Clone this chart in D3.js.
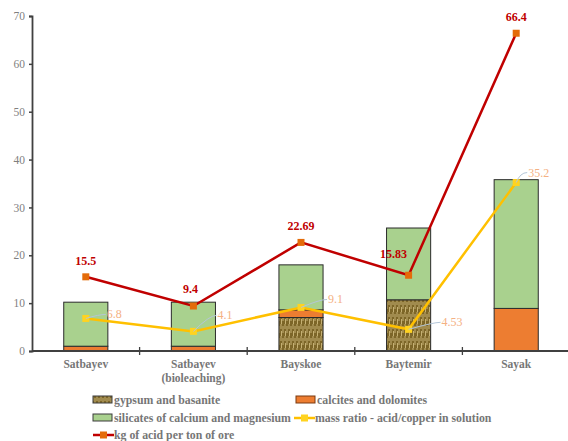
<!DOCTYPE html>
<html><head><meta charset="utf-8">
<script src="https://cdn.jsdelivr.net/npm/d3@7"></script>
<style>body{margin:0;background:#fff}svg{display:block}</style>
</head><body><svg id="c" width="568" height="441"></svg>
<script>
const categories = ["Satbayev", "Satbayev\n(bioleaching)", "Bayskoe", "Baytemir", "Sayak"];
const gypsum = [0, 0, 7.0, 10.7, 0];
const calcites = [1.0, 1.0, 1.6, 0, 8.9];
const silicates = [9.2, 9.2, 9.4, 15.0, 26.9];
const massRatio = [6.8, 4.1, 9.1, 4.53, 35.2];
const kgAcid = [15.5, 9.4, 22.69, 15.83, 66.4];
const yTicks = [0, 10, 20, 30, 40, 50, 60, 70];

const svg = d3.select("#c");
const font = "'Liberation Serif', 'Times New Roman', serif";
const x = d3.scaleBand().domain(categories).range([32, 570]).paddingInner(0.59).paddingOuter(0.295);
const y = d3.scaleLinear().domain([0, 70]).range([351, 16]);

// pattern for gypsum
const defs = svg.append("defs");
const pat = defs.append("pattern").attr("id", "gyp").attr("patternUnits", "userSpaceOnUse")
  .attr("width", 4).attr("height", 12);
pat.append("rect").attr("width", 4).attr("height", 12).attr("fill", "#7d6628");
pat.append("path").attr("d", "M1,0 L1,5 M1.5,7 L1.5,12 M3,2 L3,9").attr("stroke", "#cdb97c").attr("stroke-width", 0.9);

const stackData = categories.map((c, i) => ({cat: c, gypsum: gypsum[i], calcites: calcites[i], silicates: silicates[i]}));
const keys = ["gypsum", "calcites", "silicates"];
const fills = {gypsum: "url(#gyp)", calcites: "#ed7d31", silicates: "#a9d18e"};
const stacked = d3.stack().keys(keys)(stackData);

// axes
const yAxis = svg.append("g").attr("transform", "translate(32,0)")
  .call(d3.axisLeft(y).tickValues(yTicks).tickSize(3).tickPadding(4));
yAxis.select(".domain").attr("stroke", "#404040").attr("stroke-width", 1.8);
yAxis.selectAll(".tick line").attr("stroke", "#404040").attr("stroke-width", 1.5);
yAxis.selectAll("text").attr("font-family", font).attr("font-size", 11.5).attr("fill", "#7f7f7f");

// bars
stacked.forEach(s => {
  svg.append("g").selectAll("rect").data(s.filter(d => d[1] - d[0] > 0)).join("rect")
    .attr("x", d => x(d.data.cat)).attr("width", x.bandwidth())
    .attr("y", d => y(d[1])).attr("height", d => y(d[0]) - y(d[1]))
    .attr("fill", fills[s.key]).attr("stroke", "#2b2b2b").attr("stroke-width", 1);
});

// x axis
const xAxisG = svg.append("g").attr("transform", "translate(0,351)");
xAxisG.append("line").attr("x1", 32).attr("x2", 568).attr("stroke", "#404040").attr("stroke-width", 1.8);
const step = x.step();
categories.slice(1).forEach((c, i) => {
  const tx = x(c) - x.paddingInner() * step / 2;
  xAxisG.append("line").attr("x1", tx).attr("x2", tx).attr("y1", -4).attr("y2", 4)
    .attr("stroke", "#404040").attr("stroke-width", 1.3);
});
categories.forEach(c => {
  const lines = c.split("\n");
  const t = xAxisG.append("text").attr("x", x(c) + x.bandwidth() / 2).attr("y", 17)
    .attr("text-anchor", "middle").attr("font-family", font).attr("font-weight", "bold")
    .attr("font-size", 11.5).attr("fill", "#767676");
  lines.forEach((l, j) => t.append("tspan").attr("x", x(c) + x.bandwidth() / 2).attr("dy", j ? 14 : 0).text(l));
});

const cx = i => x(categories[i]) + x.bandwidth() / 2;
const line = d3.line().x((d, i) => cx(i)).y(d => y(d));

// yellow series
svg.append("path").datum(massRatio).attr("d", line).attr("fill", "none")
  .attr("stroke", "#ffc000").attr("stroke-width", 2.5);
svg.append("g").selectAll("rect").data(massRatio).join("rect")
  .attr("x", (d, i) => cx(i) - 3.5).attr("y", d => y(d) - 3.5).attr("width", 7).attr("height", 7)
  .attr("fill", "#ffd320");

// red series
svg.append("path").datum(kgAcid).attr("d", line).attr("fill", "none")
  .attr("stroke", "#c00000").attr("stroke-width", 2.5);
svg.append("g").selectAll("rect").data(kgAcid).join("rect")
  .attr("x", (d, i) => cx(i) - 3.5).attr("y", d => y(d) - 3.5).attr("width", 7).attr("height", 7)
  .attr("fill", "#e46c0a");

// red labels
const redOff = [[0, -12], [-3, -13], [0, -12], [-15, -17], [0, -12]];
svg.append("g").selectAll("text").data(kgAcid).join("text")
  .attr("x", (d, i) => cx(i) + redOff[i][0]).attr("y", (d, i) => y(d) + redOff[i][1])
  .attr("text-anchor", "middle").attr("font-family", font).attr("font-weight", "bold")
  .attr("font-size", 12).attr("fill", "#c00000").text(d => d);

// yellow labels with leader lines
const yelOff = [[21, 0], [24, -12], [27, -4], [33, -3], [12, -6]];
const yl = svg.append("g");
massRatio.forEach((d, i) => {
  const px = cx(i), py = y(d);
  const lx = px + yelOff[i][0], ly = py + yelOff[i][1];
  yl.append("path").attr("d", `M${px},${py} Q${lx - 8},${ly - 4} ${lx - 1},${ly - 4}`)
    .attr("fill", "none").attr("stroke", "#b4c6d8").attr("stroke-width", 1);
  yl.append("text").attr("x", lx).attr("y", ly).attr("font-family", font)
    .attr("font-size", 12).attr("fill", "#f4b183").text(d);
});

// legend
const legend = [
  {label: "gypsum and basanite", type: "rect", fill: "url(#gyp)", stroke: "#3c3c3c", x: 93, y: 400},
  {label: "calcites and dolomites", type: "rect", fill: "#ed7d31", stroke: "#7a3a10", x: 296, y: 400},
  {label: "silicates of calcium and magnesium", type: "rect", fill: "#a9d18e", stroke: "#3c3c3c", x: 93, y: 418},
  {label: "mass ratio - acid/copper in solution", type: "line", stroke: "#ffc000", mark: "#ffd320", x: 294, y: 418},
  {label: "kg of acid per ton of ore", type: "line", stroke: "#c00000", mark: "#e46c0a", x: 93, y: 435}
];
const lg = svg.append("g");
legend.forEach(l => {
  if (l.type === "rect") {
    lg.append("rect").attr("x", l.x).attr("y", l.y - 4).attr("width", 19).attr("height", 7)
      .attr("fill", l.fill).attr("stroke", l.stroke).attr("stroke-width", 1);
  } else {
    lg.append("line").attr("x1", l.x).attr("x2", l.x + 21).attr("y1", l.y).attr("y2", l.y)
      .attr("stroke", l.stroke).attr("stroke-width", 2.5);
    lg.append("rect").attr("x", l.x + 7).attr("y", l.y - 3.5).attr("width", 7).attr("height", 7).attr("fill", l.mark);
  }
  lg.append("text").attr("x", l.x + 21).attr("y", l.y + 4).attr("font-family", font)
    .attr("font-weight", "bold").attr("font-size", 11.8).attr("fill", "#767676").text(l.label);
});
</script></body></html>
